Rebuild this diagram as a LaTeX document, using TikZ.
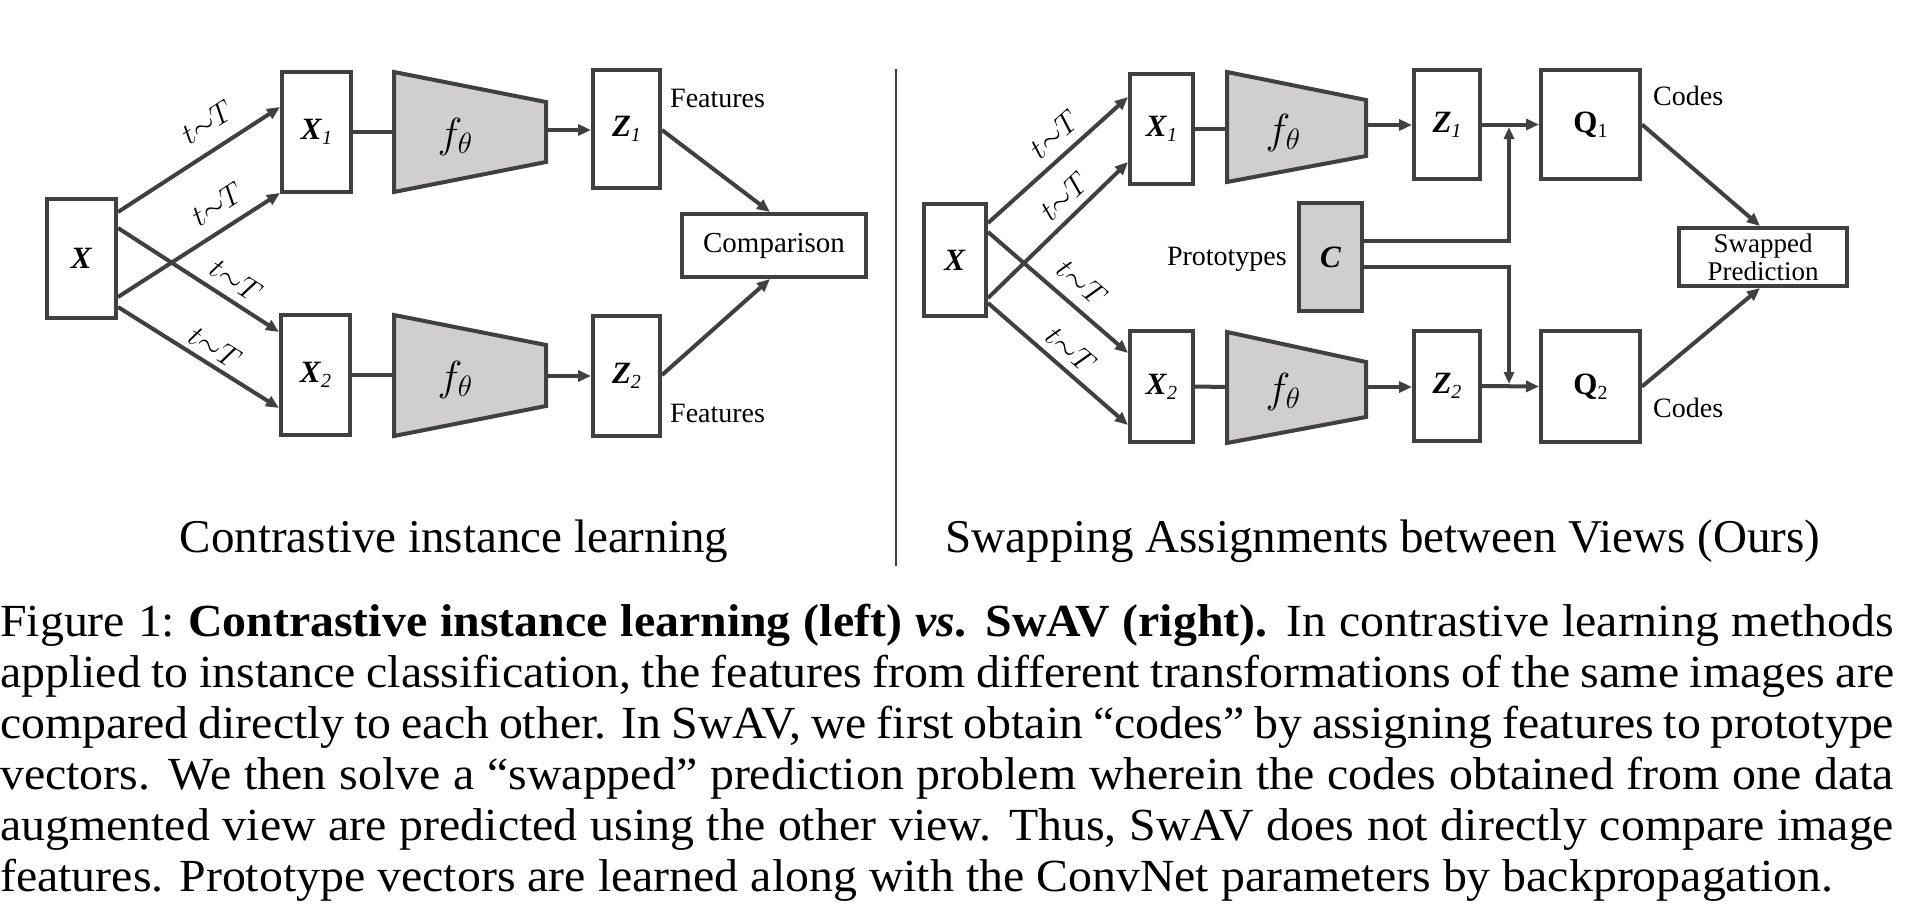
\RequirePackage{fix-cm}
\documentclass[tikz,border=0pt]{standalone}
\usepackage{fontspec}
\setmainfont{Liberation Serif}
\usepackage{graphicx}
\usetikzlibrary{arrows.meta,calc}
\definecolor{lc}{RGB}{64,64,64}
\definecolor{gfill}{RGB}{208,206,206}
\newcommand{\bi}[1]{{\fontsize{31}{31}\selectfont\textbf{\textit{#1}}}}
\newcommand{\bu}[1]{{\fontsize{31}{31}\selectfont\textbf{#1}}}
\newcommand{\lsub}[1]{\raisebox{-5pt}{\fontsize{20}{20}\selectfont #1}}
\newcommand{\ftheta}{{\fontsize{42}{42}\selectfont$f_{\theta}$}}
\newcommand{\tT}{$t{\sim}T$}
\begin{document}
\begin{tikzpicture}[x=1pt,y=-1pt,
  box/.style={draw=lc, line width=4pt, inner sep=0pt, fill=white},
  gbox/.style={box, fill=gfill},
  trap/.style={draw=lc, line width=4pt, fill=gfill, line join=miter},
  ln/.style={draw=lc, line width=4pt},
  arr/.style={ln, -{Triangle[length=13pt,width=11pt]}},
  tarr/.style={draw=lc, line width=3.5pt, -{Triangle[length=12pt,width=10pt]}},
  lab/.style={font=\fontsize{28}{30}\selectfont, inner sep=0pt},
  tlab/.style={font=\fontsize{30}{30}\selectfont, inner sep=0pt},
  ttl/.style={font=\fontsize{47}{56}\selectfont, inner sep=0pt}
]
\useasboundingbox (0,0) rectangle (1908,913);
\fill[white] (0,0) rectangle (1908,913);

% ================= LEFT =================
\node[box, minimum width=69pt, minimum height=119pt] (X) at (81.5,258.5) {\bi{X}};
\node[box, minimum width=69pt, minimum height=120pt] (X1) at (316.5,132) {\bi{X}\lsub{\textit{1}}};
\node[box, minimum width=69pt, minimum height=120pt] (X2) at (315.5,375) {\bi{X}\lsub{\textit{2}}};
\draw[trap] (394,72) -- (546,102) -- (546,162) -- (394,192) -- cycle;
\draw[trap] (394,315) -- (546,345) -- (546,406) -- (394,436) -- cycle;
\node (f1) at (455,137) {\ftheta};
\node (f2) at (455,380) {\ftheta};
\node[box, minimum width=67pt, minimum height=118pt] (Z1) at (626.5,129) {\bi{Z}\lsub{\textit{1}}};
\node[box, minimum width=67pt, minimum height=120pt] (Z2) at (626.5,376) {\bi{Z}\lsub{\textit{2}}};
\node[box, minimum width=184pt, minimum height=63pt, font=\fontsize{29}{30}\selectfont] (cmp) at (774,245.5) {Comparison};
\node[lab, anchor=base west] (feat1) at (670,107) {Features};
\node[lab, anchor=base west] (feat2) at (670,422) {Features};

\coordinate (T1in) at (394,132);
\coordinate (T1out) at (546,130);
\coordinate (T2in) at (394,375);
\coordinate (T2out) at (546,376);
\draw[ln] (X1.east) -- (T1in);
\draw[ln] (X2.east) -- (T2in);
\draw[arr] (T1out) -- (Z1.west |- T1out);
\draw[arr] (T2out) -- (Z2.west |- T2out);

\draw[arr] ([yshift=46.5pt]X.east) -- ([yshift=25pt]X1.west);
\draw[arr] ([yshift=-38.5pt]X.east) -- ([yshift=1pt]X1.south west);
\draw[arr] ([yshift=30.5pt]X.east) -- ([yshift=43pt]X2.west);
\draw[arr] ([yshift=-48.5pt]X.east) -- ([yshift=-33pt]X2.west);
\node[tlab, rotate=33] (l1) at (207,122) {\tT};
\node[tlab, rotate=33] (l2) at (217,204) {\tT};
\node[tlab, rotate=-33] (l3) at (236,280) {\tT};
\node[tlab, rotate=-32] (l4) at (215,347) {\tT};

\draw[arr] ([yshift=-1pt]Z1.east) -- ([xshift=-4pt]cmp.north);
\draw[arr] ([yshift=1pt]Z2.east) -- ([xshift=-4pt]cmp.south);

% divider
\draw[lc, line width=1.8pt] (896,69) -- (896,566);

% ================= RIGHT =================
\node[box, minimum width=62pt, minimum height=112pt] (RX) at (955,260) {\bi{X}};
\node[box, minimum width=63pt, minimum height=110pt] (RX1) at (1161.5,129) {\bi{X}\lsub{\textit{1}}};
\node[box, minimum width=63pt, minimum height=111pt] (RX2) at (1161.5,386.5) {\bi{X}\lsub{\textit{2}}};
\draw[trap] (1227,72) -- (1366,100) -- (1366,156) -- (1227,182) -- cycle;
\draw[trap] (1227,332) -- (1366,362) -- (1366,417) -- (1227,443) -- cycle;
\node (rf1) at (1283,133) {\ftheta};
\node (rf2) at (1283,392) {\ftheta};
\node[box, minimum width=66pt, minimum height=109pt] (RZ1) at (1447,124.5) {\bi{Z}\lsub{\textit{1}}};
\node[box, minimum width=66pt, minimum height=110pt] (RZ2) at (1447,386) {\bi{Z}\lsub{\textit{2}}};
\node[box, minimum width=99pt, minimum height=109pt] (Q1) at (1590.5,124.5) {\bu{Q}\lsub{1}};
\node[box, minimum width=99pt, minimum height=111pt] (Q2) at (1590.5,386.5) {\bu{Q}\lsub{2}};
\node[gbox, minimum width=63pt, minimum height=108pt] (C) at (1330.5,257) {\bi{C}};
\node[box, minimum width=168pt, minimum height=58pt, align=center, font=\fontsize{27}{30}\selectfont] (sw) at (1763,257) {Swapped\\[-2pt]Prediction};
\node[lab, anchor=base east] (proto) at (1287,265) {Prototypes};
\node[lab, anchor=base west] (codes1) at (1653,105) {Codes};
\node[lab, anchor=base west] (codes2) at (1653,417) {Codes};

\coordinate (RT1in) at (1227,129);
\coordinate (RT1out) at (1366,125);
\coordinate (RT2in) at (1227,387);
\coordinate (RT2out) at (1366,387);
\draw[ln] (RX1.east) -- (RT1in);
\draw[ln] (RX2.east) -- (RT2in);
\draw[arr] (RT1out) -- (RZ1.west |- RT1out);
\draw[arr] (RT2out) -- (RZ2.west |- RT2out);
\draw[arr] (RZ1.east) -- (Q1.west);
\draw[arr] (RZ2.east) -- (Q2.west);

\coordinate (j1) at (1509,127);
\coordinate (j2) at (1509,384);
\draw[tarr] ([yshift=16pt]C.east) -| (j1);
\draw[tarr] ([yshift=-10pt]C.east) -| (j2);

\draw[arr] (Q1.east) -- ([xshift=-3pt]sw.north);
\draw[arr] (Q2.east) -- ([xshift=-3pt]sw.south);

\draw[arr] ([yshift=37pt]RX.east) -- ([yshift=32pt]RX1.west);
\draw[arr] ([yshift=-38pt]RX.east) -- ([yshift=-33pt]RX1.west);
\draw[arr] ([yshift=28pt]RX.east) -- ([yshift=33.5pt]RX2.west);
\draw[arr] ([yshift=-43pt]RX.east) -- ([yshift=-38.5pt]RX2.west);
\node[tlab, rotate=41.6] (rl1) at (1054,134) {\tT};
\node[tlab, rotate=43.8] (rl2) at (1064,196) {\tT};
\node[tlab, rotate=-40.4] (rl3) at (1082,283) {\tT};
\node[tlab, rotate=-40.7] (rl4) at (1071,350) {\tT};

% titles
\node[ttl, anchor=base] (t1) at (454,552) {Contrastive instance learning};
\node[ttl, anchor=base] (t2) at (1383,552) {Swapping Assignments between Views (Ours)};

% caption
\node[anchor=base west, inner sep=0pt] (cap) at (0,636) {\scalebox{1.04}[1]{\parbox[t]{1821pt}{\fontsize{46}{51}\selectfont
Figure 1:\ \textbf{Contrastive instance learning (left) \textit{vs}. SwAV (right).} In contrastive learning methods\linebreak
applied to instance classification, the features from different transformations of the same images are\linebreak
compared directly to each other. In SwAV, we first obtain “codes” by assigning features to prototype\linebreak
vectors. We then solve a “swapped” prediction problem wherein the codes obtained from one data\linebreak
augmented view are predicted using the other view. Thus, SwAV does not directly compare image\linebreak
features. Prototype vectors are learned along with the ConvNet parameters by backpropagation.}}};
\end{tikzpicture}
\end{document}
